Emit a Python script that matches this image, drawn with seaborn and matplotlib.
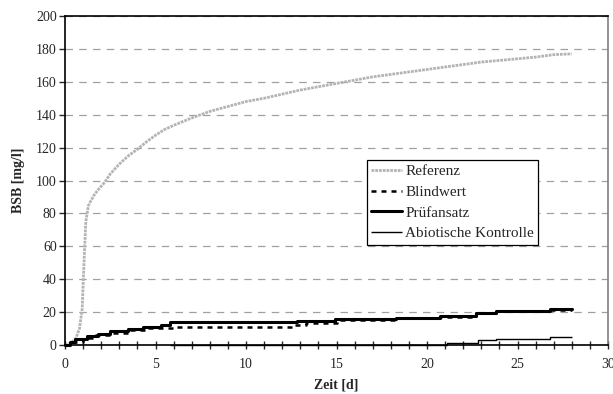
import numpy as np
import pandas as pd
import seaborn as sns
import matplotlib.pyplot as plt
from matplotlib.ticker import MultipleLocator

# Referenz (smooth curve, sampled)
ref_t = [0, 0.3, 0.6, 0.8, 0.95, 1.05, 1.15, 1.3, 1.6, 1.8, 2.2, 2.5, 3, 3.5, 4, 4.5,
         5, 5.5, 6, 6.5, 7, 7.5, 8, 9, 10, 11, 12, 13, 14, 15, 16, 17, 18, 19, 20,
         21, 22, 23, 24, 25, 26, 27, 28]
ref_v = [0, 1, 4, 10, 22, 50, 75, 85, 91, 94, 99, 104, 110, 115, 119, 123.5,
         127.5, 131, 133.5, 135.8, 138, 140, 142, 145, 148, 150, 152.5, 155, 157, 159, 161, 163, 164.5, 166, 167.5,
         169, 170.5, 172, 173, 174, 175, 176.5, 177]

# Blindwert (steps)
blind_t = [0, 0.4, 1.0, 1.6, 2.6, 3.5, 4.5, 6.0, 12.6, 13.3, 15.0, 18.3, 20.7, 22.7, 23.8, 26.8, 28.0]
blind_v = [0, 2, 4, 6, 7.5, 8.9, 10.2, 11, 12, 13.6, 15, 16.2, 17.3, 19.4, 20.4, 21.5, 21.5]

# Prüfansatz (steps)
pruef_t = [0, 0.3, 0.55, 1.2, 1.8, 2.5, 3.5, 4.3, 5.3, 5.8, 12.8, 14.9, 18.3, 20.7, 22.7, 23.8, 26.8, 28.0]
pruef_v = [0, 2, 3.9, 5.2, 6.5, 8.5, 9.6, 11, 12.2, 14, 14.8, 15.6, 16.6, 17.7, 19.7, 20.7, 21.8, 21.8]

# Abiotische Kontrolle (steps)
abio_t = [5.8, 21.1, 22.8, 23.8, 26.8, 28.0]
abio_v = [0, 1.5, 2.8, 3.8, 4.6, 4.6]

sns.set_style("white")
plt.rcParams['font.family'] = ['Liberation Serif', 'DejaVu Serif']

fig = plt.figure(figsize=(6.13, 3.94), dpi=100)
ax = fig.add_axes([65 / 613, 1 - 345 / 394, 543 / 613, 329 / 394])

ax.yaxis.grid(True, color='#a0a0a0', linestyle=(0, (6, 5)), linewidth=0.9)
ax.set_axisbelow(True)

sns.lineplot(x=ref_t, y=ref_v, ax=ax, color='#b4b4b4', linewidth=2.0,
             linestyle=(0, (1.0, 0.35)), label='Referenz', sort=False)
sns.lineplot(x=blind_t, y=blind_v, ax=ax, color='black', linewidth=1.8,
             linestyle=(0, (2.0, 2.0)), drawstyle='steps-post', label='Blindwert', sort=False)
sns.lineplot(x=pruef_t, y=pruef_v, ax=ax, color='black', linewidth=2.2,
             drawstyle='steps-post', label='Prüfansatz', sort=False)
sns.lineplot(x=abio_t, y=abio_v, ax=ax, color='black', linewidth=1.0,
             drawstyle='steps-post', label='Abiotische Kontrolle', sort=False)
for ln in ax.get_lines():
    ln.set_clip_on(False)
ax.get_lines()[-1].set_solid_capstyle('butt')

ax.set_xlim(0, 30)
ax.set_ylim(0, 200)
ax.xaxis.set_major_locator(MultipleLocator(5))
ax.xaxis.set_minor_locator(MultipleLocator(1))
ax.yaxis.set_major_locator(MultipleLocator(20))
ax.tick_params(axis='x', which='both', direction='inout', length=6, width=1,
               labelsize=10, bottom=True, pad=6)
ax.tick_params(axis='y', which='major', direction='out', length=4, width=1,
               labelsize=10, left=True, pad=2)

for s in ['left', 'bottom', 'top']:
    ax.spines[s].set_color('black')
    ax.spines[s].set_linewidth(1.2)
ax.spines['right'].set_color('#808080')
ax.spines['right'].set_linewidth(1.2)

ax.set_xlabel('Zeit [d]', fontsize=10, fontweight='bold', labelpad=6)
ax.set_ylabel('BSB [mg/l]', fontsize=10, fontweight='bold', labelpad=8)

leg = ax.legend(loc='upper left', bbox_to_anchor=(0.556, 0.562), fontsize=11,
                frameon=True, fancybox=False, shadow=False, handlelength=2.0,
                handletextpad=0.2, borderpad=0.3, labelspacing=0.45, borderaxespad=0)
leg.get_frame().set_edgecolor('black')
leg.get_frame().set_linewidth(0.9)
leg.get_frame().set_alpha(1)

fig.savefig('out.png', dpi=100)
